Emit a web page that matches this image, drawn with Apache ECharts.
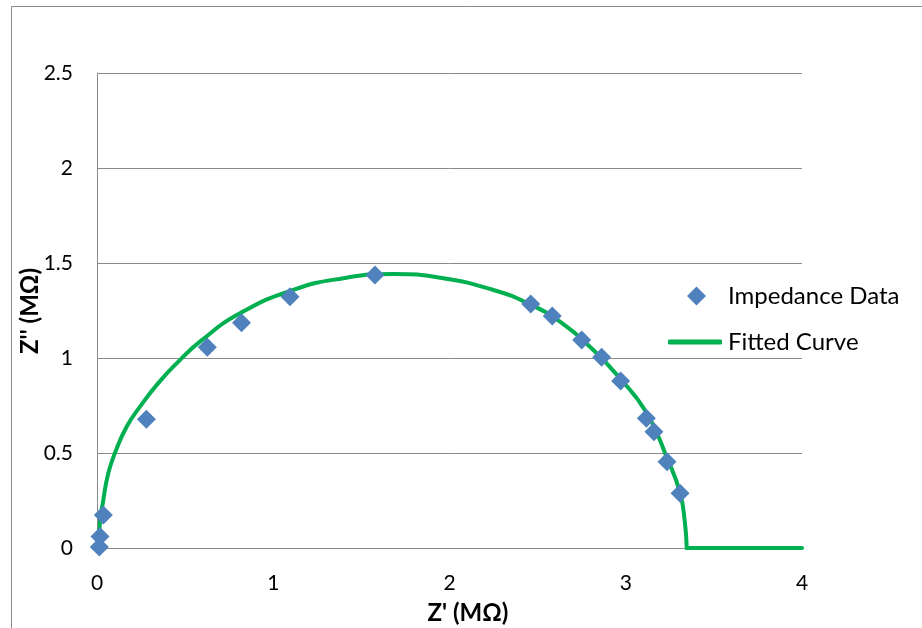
<!DOCTYPE html>
<html>
<head>
<meta charset="utf-8">
<script src="https://cdn.jsdelivr.net/npm/echarts@6/dist/echarts.min.js"></script>
<style>
  html, body { margin: 0; padding: 0; background: #fff; }
  #chart { width: 922px; height: 628px; }
</style>
</head>
<body>
<div id="chart"></div>
<script>
// Measured impedance (Nyquist plot), Z' and Z'' in MΩ
const impedanceRe = [0.013, 0.017, 0.036, 0.28, 0.626, 0.82, 1.095, 1.577, 2.461, 2.583, 2.75, 2.863, 2.971, 3.117, 3.16, 3.234, 3.308];
const impedanceIm = [0.005, 0.06, 0.174, 0.677, 1.056, 1.186, 1.323, 1.437, 1.284, 1.221, 1.095, 1.004, 0.879, 0.683, 0.612, 0.454, 0.288];

// Fitted equivalent-circuit curve: the arc, then the flat tail along Z'' = 0
const fitRe = [0.012, 0.014, 0.036, 0.064, 0.102, 0.168, 0.244, 0.345, 0.452, 0.584, 0.811, 1.114, 1.398, 1.68, 1.965, 2.249, 2.438, 2.627, 2.816, 2.967, 3.119, 3.236, 3.308, 3.336, 3.346];
const fitIm = [0, 0.1, 0.253, 0.393, 0.5, 0.638, 0.744, 0.865, 0.972, 1.086, 1.235, 1.359, 1.42, 1.442, 1.42, 1.358, 1.291, 1.191, 1.042, 0.893, 0.71, 0.47, 0.29, 0.13, 0];
const tailRe = [3.346, 4];
const tailIm = [0, 0];

const xTicks = [0, 1, 2, 3, 4];
const yTicks = [0, 0.5, 1, 1.5, 2, 2.5];

const FONT = 'Lato';
const GRAY = '#8a8a8a';
const GREEN = '#00b050';
const BLUE = '#4f81bd';

const chart = echarts.init(document.getElementById('chart'), null, { renderer: 'canvas' });

const fitLine = {
  name: 'Fitted Curve',
  type: 'line',
  symbol: 'none',
  lineStyle: { color: GREEN, width: 4, cap: 'round', join: 'round' },
  itemStyle: { color: GREEN },
  z: 2
};

chart.setOption({
  animation: false,
  backgroundColor: '#ffffff',
  textStyle: { fontFamily: FONT },
  graphic: [
    {
      type: 'rect',
      silent: true,
      shape: { x: 11.5, y: 6.5, width: 1200, height: 1000 },
      style: { fill: 'none', stroke: GRAY, lineWidth: 1 }
    },
    {
      type: 'text',
      silent: true,
      x: 468, y: 613,
      style: {
        text: "Z' (MΩ)", fontFamily: FONT, fontSize: 24, fontWeight: 'bold',
        fill: '#000', align: 'center', verticalAlign: 'middle'
      }
    },
    {
      type: 'text',
      silent: true,
      x: 30, y: 311,
      rotation: Math.PI / 2,
      style: {
        text: "Z'' (MΩ)", fontFamily: FONT, fontSize: 24, fontWeight: 'bold',
        fill: '#000', align: 'center', verticalAlign: 'middle'
      }
    }
  ],
  grid: { left: 97, right: 120, top: 73, bottom: 80 },
  legend: [
    {
      orient: 'vertical',
      left: 682,
      top: 279,
      itemWidth: 19,
      itemHeight: 19,
      textStyle: { fontFamily: FONT, fontSize: 24, color: '#000', padding: [0, 0, 0, 17] },
      data: [{ name: 'Impedance Data', icon: 'diamond' }]
    },
    {
      orient: 'vertical',
      left: 663,
      top: 325,
      itemWidth: 54,
      itemHeight: 5,
      textStyle: { fontFamily: FONT, fontSize: 24, color: '#000', padding: [0, 0, 0, 1] },
      data: [{ name: 'Fitted Curve', icon: 'roundRect' }]
    }
  ],
  xAxis: {
    type: 'value',
    min: xTicks[0],
    max: xTicks[xTicks.length - 1],
    interval: 1,
    axisLine: { show: true, onZero: false, lineStyle: { color: GRAY, width: 1 } },
    axisTick: { show: false },
    splitLine: { show: false },
    axisLabel: { fontFamily: FONT, fontSize: 21, color: '#000', margin: 25 }
  },
  yAxis: {
    type: 'value',
    min: yTicks[0],
    max: yTicks[yTicks.length - 1],
    interval: 0.5,
    axisLine: { show: true, lineStyle: { color: GRAY, width: 1 } },
    axisTick: { show: false },
    splitLine: { show: true, lineStyle: { color: GRAY, width: 1 } },
    axisLabel: { fontFamily: FONT, fontSize: 21, color: '#000', margin: 24 }
  },
  series: [
    Object.assign({}, fitLine, {
      data: fitRe.map((x, i) => [x, fitIm[i]]),
      smooth: 0.5
    }),
    Object.assign({}, fitLine, {
      data: tailRe.map((x, i) => [x, tailIm[i]])
    }),
    {
      name: 'Impedance Data',
      type: 'scatter',
      data: impedanceRe.map((x, i) => [x, impedanceIm[i]]),
      symbol: 'diamond',
      symbolSize: 19,
      itemStyle: { color: BLUE, opacity: 1 },
      z: 3
    }
  ]
});
</script>
</body>
</html>
